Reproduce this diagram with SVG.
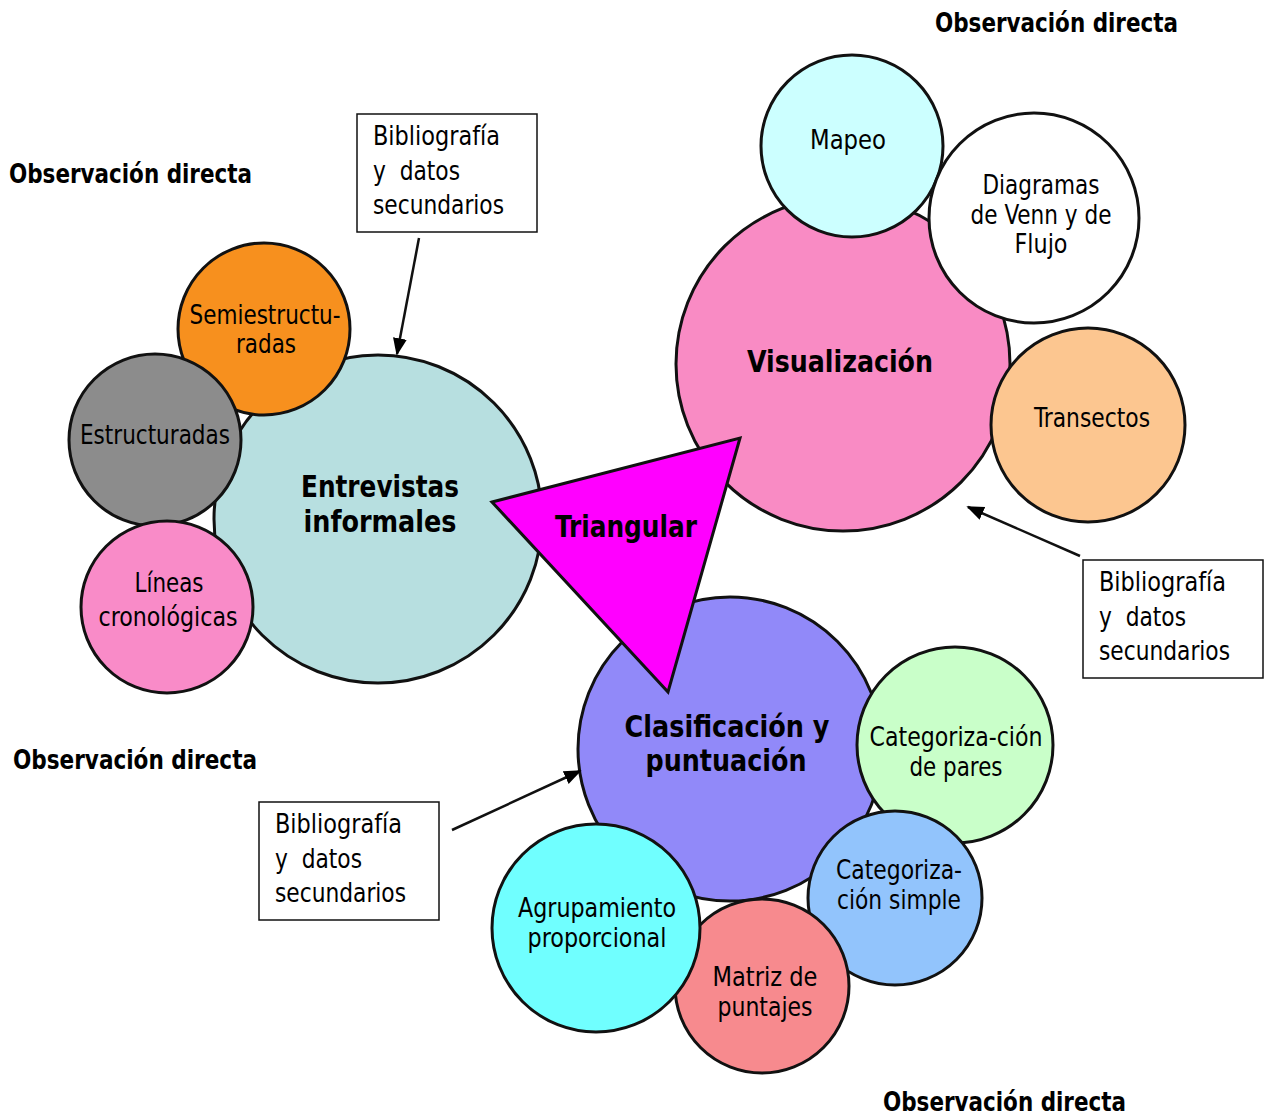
<svg xmlns="http://www.w3.org/2000/svg" width="1268" height="1119" viewBox="0 0 1268 1119">
<defs>
<marker id="ah" viewBox="0 0 10 10" refX="9" refY="5" markerWidth="7" markerHeight="7" orient="auto" markerUnits="strokeWidth">
<path d="M0,1 L10,5 L0,9 Z" fill="#000"/>
</marker>
</defs>
<style>
.c{stroke:#111;stroke-width:3}
.t{font-family:"Liberation Sans Narrow","DejaVu Sans Condensed","Liberation Sans",sans-serif;font-size:27px;fill:#000;text-anchor:middle}
.b{font-family:"Liberation Sans Narrow","DejaVu Sans Condensed","Liberation Sans",sans-serif;font-size:31px;font-weight:bold;fill:#000;text-anchor:middle}
.h{font-family:"Liberation Sans Narrow","DejaVu Sans Condensed","Liberation Sans",sans-serif;font-size:27px;font-weight:bold;fill:#000}
.bx{fill:#fff;stroke:#111;stroke-width:1.5}
.bt{font-family:"Liberation Sans Narrow","DejaVu Sans Condensed","Liberation Sans",sans-serif;font-size:27px;fill:#000}
.a{stroke:#111;stroke-width:2.5;fill:none;marker-end:url(#ah)}
</style>
<rect width="1268" height="1119" fill="#fff"/>

<g id="headers">
<text class="h" x="935" y="32" textLength="243" lengthAdjust="spacingAndGlyphs">Observación directa</text>
<text class="h" x="9" y="183" textLength="243" lengthAdjust="spacingAndGlyphs">Observación directa</text>
<text class="h" x="13" y="769" textLength="244" lengthAdjust="spacingAndGlyphs">Observación directa</text>
<text class="h" x="883" y="1111" textLength="243" lengthAdjust="spacingAndGlyphs">Observación directa</text>
</g>

<!-- Entrevistas cluster -->
<g id="entrevistas">
<circle class="c" cx="378" cy="519" r="164" fill="#b7dfe0"/>
<text class="b" x="380" y="497" textLength="158" lengthAdjust="spacingAndGlyphs">Entrevistas</text>
<text class="b" x="380" y="532" textLength="153" lengthAdjust="spacingAndGlyphs">informales</text>
</g>
<g id="semiestructuradas">
<circle class="c" cx="264" cy="329" r="86" fill="#f7901e"/>
<text class="t" x="265" y="324" textLength="151" lengthAdjust="spacingAndGlyphs">Semiestructu-</text>
<text class="t" x="266" y="353" textLength="60" lengthAdjust="spacingAndGlyphs">radas</text>
</g>
<g id="estructuradas">
<circle class="c" cx="155" cy="440" r="86" fill="#8c8c8c"/>
<text class="t" x="155" y="444" textLength="150" lengthAdjust="spacingAndGlyphs">Estructuradas</text>
</g>
<g id="lineas">
<circle class="c" cx="167" cy="607" r="86" fill="#f98bc8"/>
<text class="t" x="169" y="592" textLength="69" lengthAdjust="spacingAndGlyphs">Líneas</text>
<text class="t" x="168" y="626" textLength="139" lengthAdjust="spacingAndGlyphs">cronológicas</text>
</g>

<!-- Visualización cluster -->
<g id="visualizacion">
<circle class="c" cx="843" cy="364" r="167" fill="#f98bc4"/>
<text class="b" x="840" y="372" textLength="186" lengthAdjust="spacingAndGlyphs">Visualización</text>
</g>
<g id="mapeo">
<circle class="c" cx="852" cy="146" r="91" fill="#ccffff"/>
<text class="t" x="848" y="149" textLength="76" lengthAdjust="spacingAndGlyphs">Mapeo</text>
</g>
<g id="diagramas">
<circle class="c" cx="1034" cy="218" r="105" fill="#fff"/>
<text class="t" x="1041" y="194" textLength="117" lengthAdjust="spacingAndGlyphs">Diagramas</text>
<text class="t" x="1041" y="224" textLength="141" lengthAdjust="spacingAndGlyphs">de Venn y de</text>
<text class="t" x="1041" y="253" textLength="53" lengthAdjust="spacingAndGlyphs">Flujo</text>
</g>
<g id="transectos">
<circle class="c" cx="1088" cy="425" r="97" fill="#fcc690"/>
<text class="t" x="1092" y="427" textLength="116" lengthAdjust="spacingAndGlyphs">Transectos</text>
</g>

<!-- Clasificación cluster -->
<g id="clasificacion">
<circle class="c" cx="730" cy="749" r="152" fill="#9189f9"/>
<text class="b" x="727" y="737" textLength="205" lengthAdjust="spacingAndGlyphs">Clasificación y</text>
<text class="b" x="726" y="771" textLength="161" lengthAdjust="spacingAndGlyphs">puntuación</text>
</g>
<g id="cat-pares">
<circle class="c" cx="955" cy="745" r="98" fill="#c9ffc9"/>
<text class="t" x="956" y="746" textLength="173" lengthAdjust="spacingAndGlyphs">Categoriza-ción</text>
<text class="t" x="956" y="776" textLength="93" lengthAdjust="spacingAndGlyphs">de pares</text>
</g>
<g id="cat-simple">
<circle class="c" cx="895" cy="898" r="87" fill="#92c4fc"/>
<text class="t" x="899" y="879" textLength="126" lengthAdjust="spacingAndGlyphs">Categoriza-</text>
<text class="t" x="899" y="909" textLength="124" lengthAdjust="spacingAndGlyphs">ción simple</text>
</g>
<g id="matriz">
<circle class="c" cx="762" cy="986" r="87" fill="#f78a8e"/>
<text class="t" x="765" y="986" textLength="105" lengthAdjust="spacingAndGlyphs">Matriz de</text>
<text class="t" x="765" y="1016" textLength="95" lengthAdjust="spacingAndGlyphs">puntajes</text>
</g>
<g id="agrupamiento">
<circle class="c" cx="596" cy="928" r="104" fill="#70ffff"/>
<text class="t" x="597" y="917" textLength="158" lengthAdjust="spacingAndGlyphs">Agrupamiento</text>
<text class="t" x="597" y="947" textLength="139" lengthAdjust="spacingAndGlyphs">proporcional</text>
</g>

<!-- Triangle -->
<g id="triangular">
<polygon points="492,502 740,438 668,692" fill="#ff00ff" stroke="#111" stroke-width="3" stroke-linejoin="miter"/>
<text class="b" x="626" y="537" textLength="142" lengthAdjust="spacingAndGlyphs">Triangular</text>
</g>

<!-- Boxes -->
<g id="box-top">
<rect class="bx" x="357" y="114" width="180" height="118"/>
<text class="bt" x="373" y="145" textLength="127" lengthAdjust="spacingAndGlyphs">Bibliografía</text>
<text class="bt" x="373" y="180" xml:space="preserve" textLength="87" lengthAdjust="spacingAndGlyphs">y  datos</text>
<text class="bt" x="373" y="214" textLength="131" lengthAdjust="spacingAndGlyphs">secundarios</text>
</g>
<g id="box-right">
<rect class="bx" x="1083" y="560" width="180" height="118"/>
<text class="bt" x="1099" y="591" textLength="127" lengthAdjust="spacingAndGlyphs">Bibliografía</text>
<text class="bt" x="1099" y="626" xml:space="preserve" textLength="87" lengthAdjust="spacingAndGlyphs">y  datos</text>
<text class="bt" x="1099" y="660" textLength="131" lengthAdjust="spacingAndGlyphs">secundarios</text>
</g>
<g id="box-left">
<rect class="bx" x="259" y="802" width="180" height="118"/>
<text class="bt" x="275" y="833" textLength="127" lengthAdjust="spacingAndGlyphs">Bibliografía</text>
<text class="bt" x="275" y="868" xml:space="preserve" textLength="87" lengthAdjust="spacingAndGlyphs">y  datos</text>
<text class="bt" x="275" y="902" textLength="131" lengthAdjust="spacingAndGlyphs">secundarios</text>
</g>

<g id="connectors">
<line class="a" x1="419" y1="238" x2="397" y2="354"/>
<line class="a" x1="1080" y1="556" x2="968" y2="507"/>
<line class="a" x1="452" y1="830" x2="580" y2="771"/>
</g>
</svg>
